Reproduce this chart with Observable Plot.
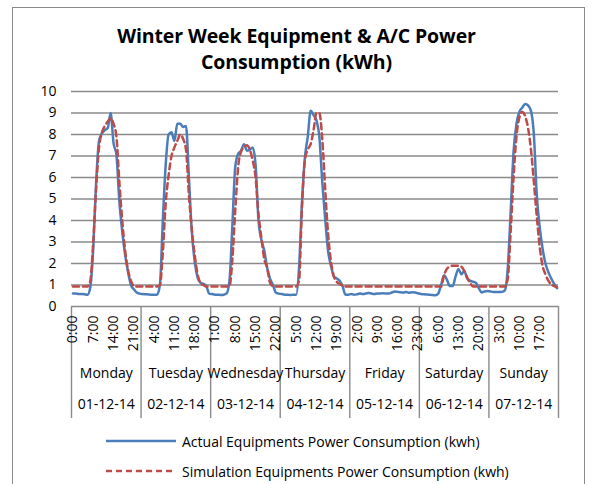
<!DOCTYPE html>
<html>
<head>
<meta charset="utf-8">
<script src="https://cdn.jsdelivr.net/npm/d3@7"></script>
<script src="https://cdn.jsdelivr.net/npm/@observablehq/plot@0.6"></script>
<style>
  html, body { margin: 0; padding: 0; background: #fff; }
  body { width: 593px; height: 484px; position: relative; overflow: hidden; font-family: "Open Sans", sans-serif; color: #000; }
  #frame { position: absolute; left: 12px; top: 7px; width: 573px; height: 500px; border: 1px solid #8a8a8a; box-sizing: border-box; }
  #title { position: absolute; left: 0; top: 23px; width: 593px; text-align: center; font-weight: bold; font-size: 19.5px; line-height: 26px; letter-spacing: -0.1px; }
  #chart { position: absolute; left: 0; top: 80px; }
  .leg { position: absolute; left: 106px; height: 20px; display: flex; align-items: center; font-size: 14px; white-space: nowrap; }
  .leg svg { margin-right: 6px; }
</style>
</head>
<body>
<div id="frame"></div>
<div id="title">Winter Week Equipment &amp; A/C Power<br>Consumption (kWh)</div>
<div id="chart"></div>
<div id="legend"></div>
<script>
// Hourly values, Monday 0:00 through Sunday 23:00 (168 hours)
const actual = [
  // Monday
  0.6,0.6,0.58,0.58,0.57,0.55,0.9,2.7,5.8,7.7,8.05,8.2,8.3,9.0,7.6,7.05,4.9,3.5,2.4,1.6,1.0,0.8,0.65,0.6,
  // Tuesday
  0.58,0.57,0.56,0.55,0.55,0.55,1.0,4.0,6.6,8.0,8.1,7.7,8.5,8.5,8.35,8.4,6.0,3.5,2.1,1.35,1.1,1.05,0.95,0.6,
  // Wednesday
  0.58,0.55,0.55,0.54,0.55,0.6,1.2,3.8,6.5,7.1,7.25,7.55,7.25,7.3,7.4,6.6,4.0,3.1,2.6,1.8,1.3,1.0,0.65,0.6,
  // Thursday
  0.58,0.55,0.55,0.53,0.55,0.55,1.8,4.8,6.9,7.9,9.1,8.9,8.65,7.9,5.8,4.1,2.6,1.9,1.4,1.3,1.2,0.95,0.55,0.55,
  // Friday
  0.58,0.55,0.57,0.6,0.58,0.6,0.63,0.6,0.58,0.6,0.6,0.62,0.6,0.6,0.65,0.7,0.68,0.66,0.65,0.68,0.64,0.66,0.65,0.62,
  // Saturday
  0.58,0.57,0.56,0.55,0.53,0.52,0.6,1.0,1.45,1.25,0.95,0.95,1.4,1.75,1.5,1.65,1.3,1.2,1.15,1.1,0.85,0.65,0.7,0.72,
  // Sunday
  0.7,0.68,0.68,0.67,0.68,0.75,1.8,4.4,7.2,8.5,9.05,9.25,9.42,9.35,9.1,8.0,5.2,3.7,2.7,2.0,1.6,1.3,1.05,0.85
];
const simulation = [
  // Monday
  0.93,0.93,0.93,0.93,0.93,0.93,1.2,3.0,5.5,7.4,8.1,8.4,8.6,8.75,8.5,7.9,5.8,4.0,2.6,1.7,1.2,0.95,0.93,0.93,
  // Tuesday
  0.93,0.93,0.93,0.93,0.93,0.93,1.0,2.5,4.8,6.1,7.0,7.4,7.7,8.0,7.8,7.3,5.2,3.6,2.4,1.5,1.1,1.0,0.93,0.93,
  // Wednesday
  0.93,0.93,0.93,0.93,0.93,0.93,0.95,2.2,4.5,6.5,7.2,7.4,7.5,7.3,6.8,6.0,4.3,3.2,2.2,1.8,1.1,0.95,0.93,0.93,
  // Thursday
  0.93,0.93,0.93,0.93,0.93,0.93,1.2,4.6,6.8,7.3,7.55,8.2,9.0,9.0,7.8,5.5,3.4,2.1,1.4,1.15,1.05,0.98,0.93,0.93,
  // Friday
  0.93,0.93,0.93,0.93,0.93,0.93,0.93,0.93,0.93,0.93,0.93,0.93,0.93,0.93,0.93,0.93,0.93,0.93,0.93,0.93,0.93,0.93,0.93,0.93,
  // Saturday
  0.93,0.93,0.93,0.93,0.93,0.93,0.93,0.93,1.45,1.75,1.85,1.9,1.9,1.9,1.85,1.65,1.35,1.1,0.93,0.93,0.93,0.93,0.93,0.93,
  // Sunday
  0.93,0.93,0.93,0.93,0.93,0.93,1.3,3.5,6.0,7.9,8.8,9.05,8.85,8.3,7.3,5.8,4.2,2.8,1.9,1.5,1.2,1.03,0.95,0.9
];
const hourLabels = ["0:00","7:00","14:00","21:00","4:00","11:00","18:00","1:00","8:00","15:00","22:00","5:00",
                    "12:00","19:00","2:00","9:00","16:00","23:00","6:00","13:00","20:00","3:00","10:00","17:00"];
const days = ["Monday","Tuesday","Wednesday","Thursday","Friday","Saturday","Sunday"];
const dates = ["01-12-14","02-12-14","03-12-14","04-12-14","05-12-14","06-12-14","07-12-14"];
const yTicks = [0,1,2,3,4,5,6,7,8,9,10];
const seriesNames = ["Actual Equipments Power Consumption (kwh)", "Simulation Equipments Power Consumption (kwh)"];

const HOURS_PER_DAY = 24, LABEL_STEP = 7;
const blue = "#4a7ebb", red = "#be4b48", grid = "#8a8a8a";

const actualRows = actual.map((v, i) => ({h: i + 0.5, v}));
const simRows = simulation.map((v, i) => ({h: i + 0.5, v}));
const labelRows = hourLabels.map((t, i) => ({h: i * LABEL_STEP + 0.5, t}));
const dayBounds = d3.range(days.length + 1).map(d => d * HOURS_PER_DAY);
const dayRows = days.map((d, i) => ({h: i * HOURS_PER_DAY + HOURS_PER_DAY / 2, day: d, date: dates[i]}));

const chart = Plot.plot({
  width: 593,
  height: 345,
  marginLeft: 71,
  marginRight: 35,
  marginTop: 11,
  marginBottom: 119,
  x: {domain: [0, actual.length]},
  y: {domain: [0, 10]},
  style: {fontFamily: "'Open Sans', sans-serif", fontSize: "14px", color: "#000", background: "transparent", overflow: "visible"},
  marks: [
    Plot.gridY(yTicks, {stroke: grid, strokeOpacity: 1, strokeWidth: 1.4}),
    Plot.axisY(yTicks, {tickSize: 0, tickPadding: 15, label: null, fontSize: 14, fill: "#000"}),
    Plot.axisX(dayBounds, {tickSize: 112, tickFormat: () => "", stroke: grid, strokeWidth: 1.4, label: null}),
    Plot.axisX(labelRows.map(d => d.h), {
      tickSize: 0, tickPadding: 9, tickRotate: -90, label: null, fontSize: 14, fill: "#000",
      tickFormat: h => hourLabels[Math.round((h - 0.5) / LABEL_STEP)]
    }),
    Plot.text(dayRows, {x: "h", text: "day", frameAnchor: "bottom", dy: 71, fontSize: 14, fill: "#000"}),
    Plot.text(dayRows, {x: "h", text: "date", frameAnchor: "bottom", dy: 102, fontSize: 14, fill: "#000"}),
    Plot.line(actualRows, {x: "h", y: "v", stroke: blue, strokeWidth: 2.5, curve: "monotone-x"}),
    Plot.line(simRows, {x: "h", y: "v", stroke: red, strokeWidth: 2.5, strokeDasharray: "6,4", curve: "monotone-x"})
  ]
});
document.getElementById("chart").appendChild(chart);

// Legend
const legend = document.getElementById("legend");
const legendItems = [
  {name: seriesNames[0], color: blue, dash: null, top: 431},
  {name: seriesNames[1], color: red, dash: "6,4", top: 461}
];
legendItems.forEach(it => {
  const div = document.createElement("div");
  div.className = "leg";
  div.style.top = it.top + "px";
  div.innerHTML = `<svg width="70" height="6"><line x1="0" x2="70" y1="3" y2="3" stroke="${it.color}" stroke-width="2.5" ${it.dash ? `stroke-dasharray="${it.dash}"` : ""}/></svg><span>${it.name}</span>`;
  legend.appendChild(div);
});
</script>
</body>
</html>
